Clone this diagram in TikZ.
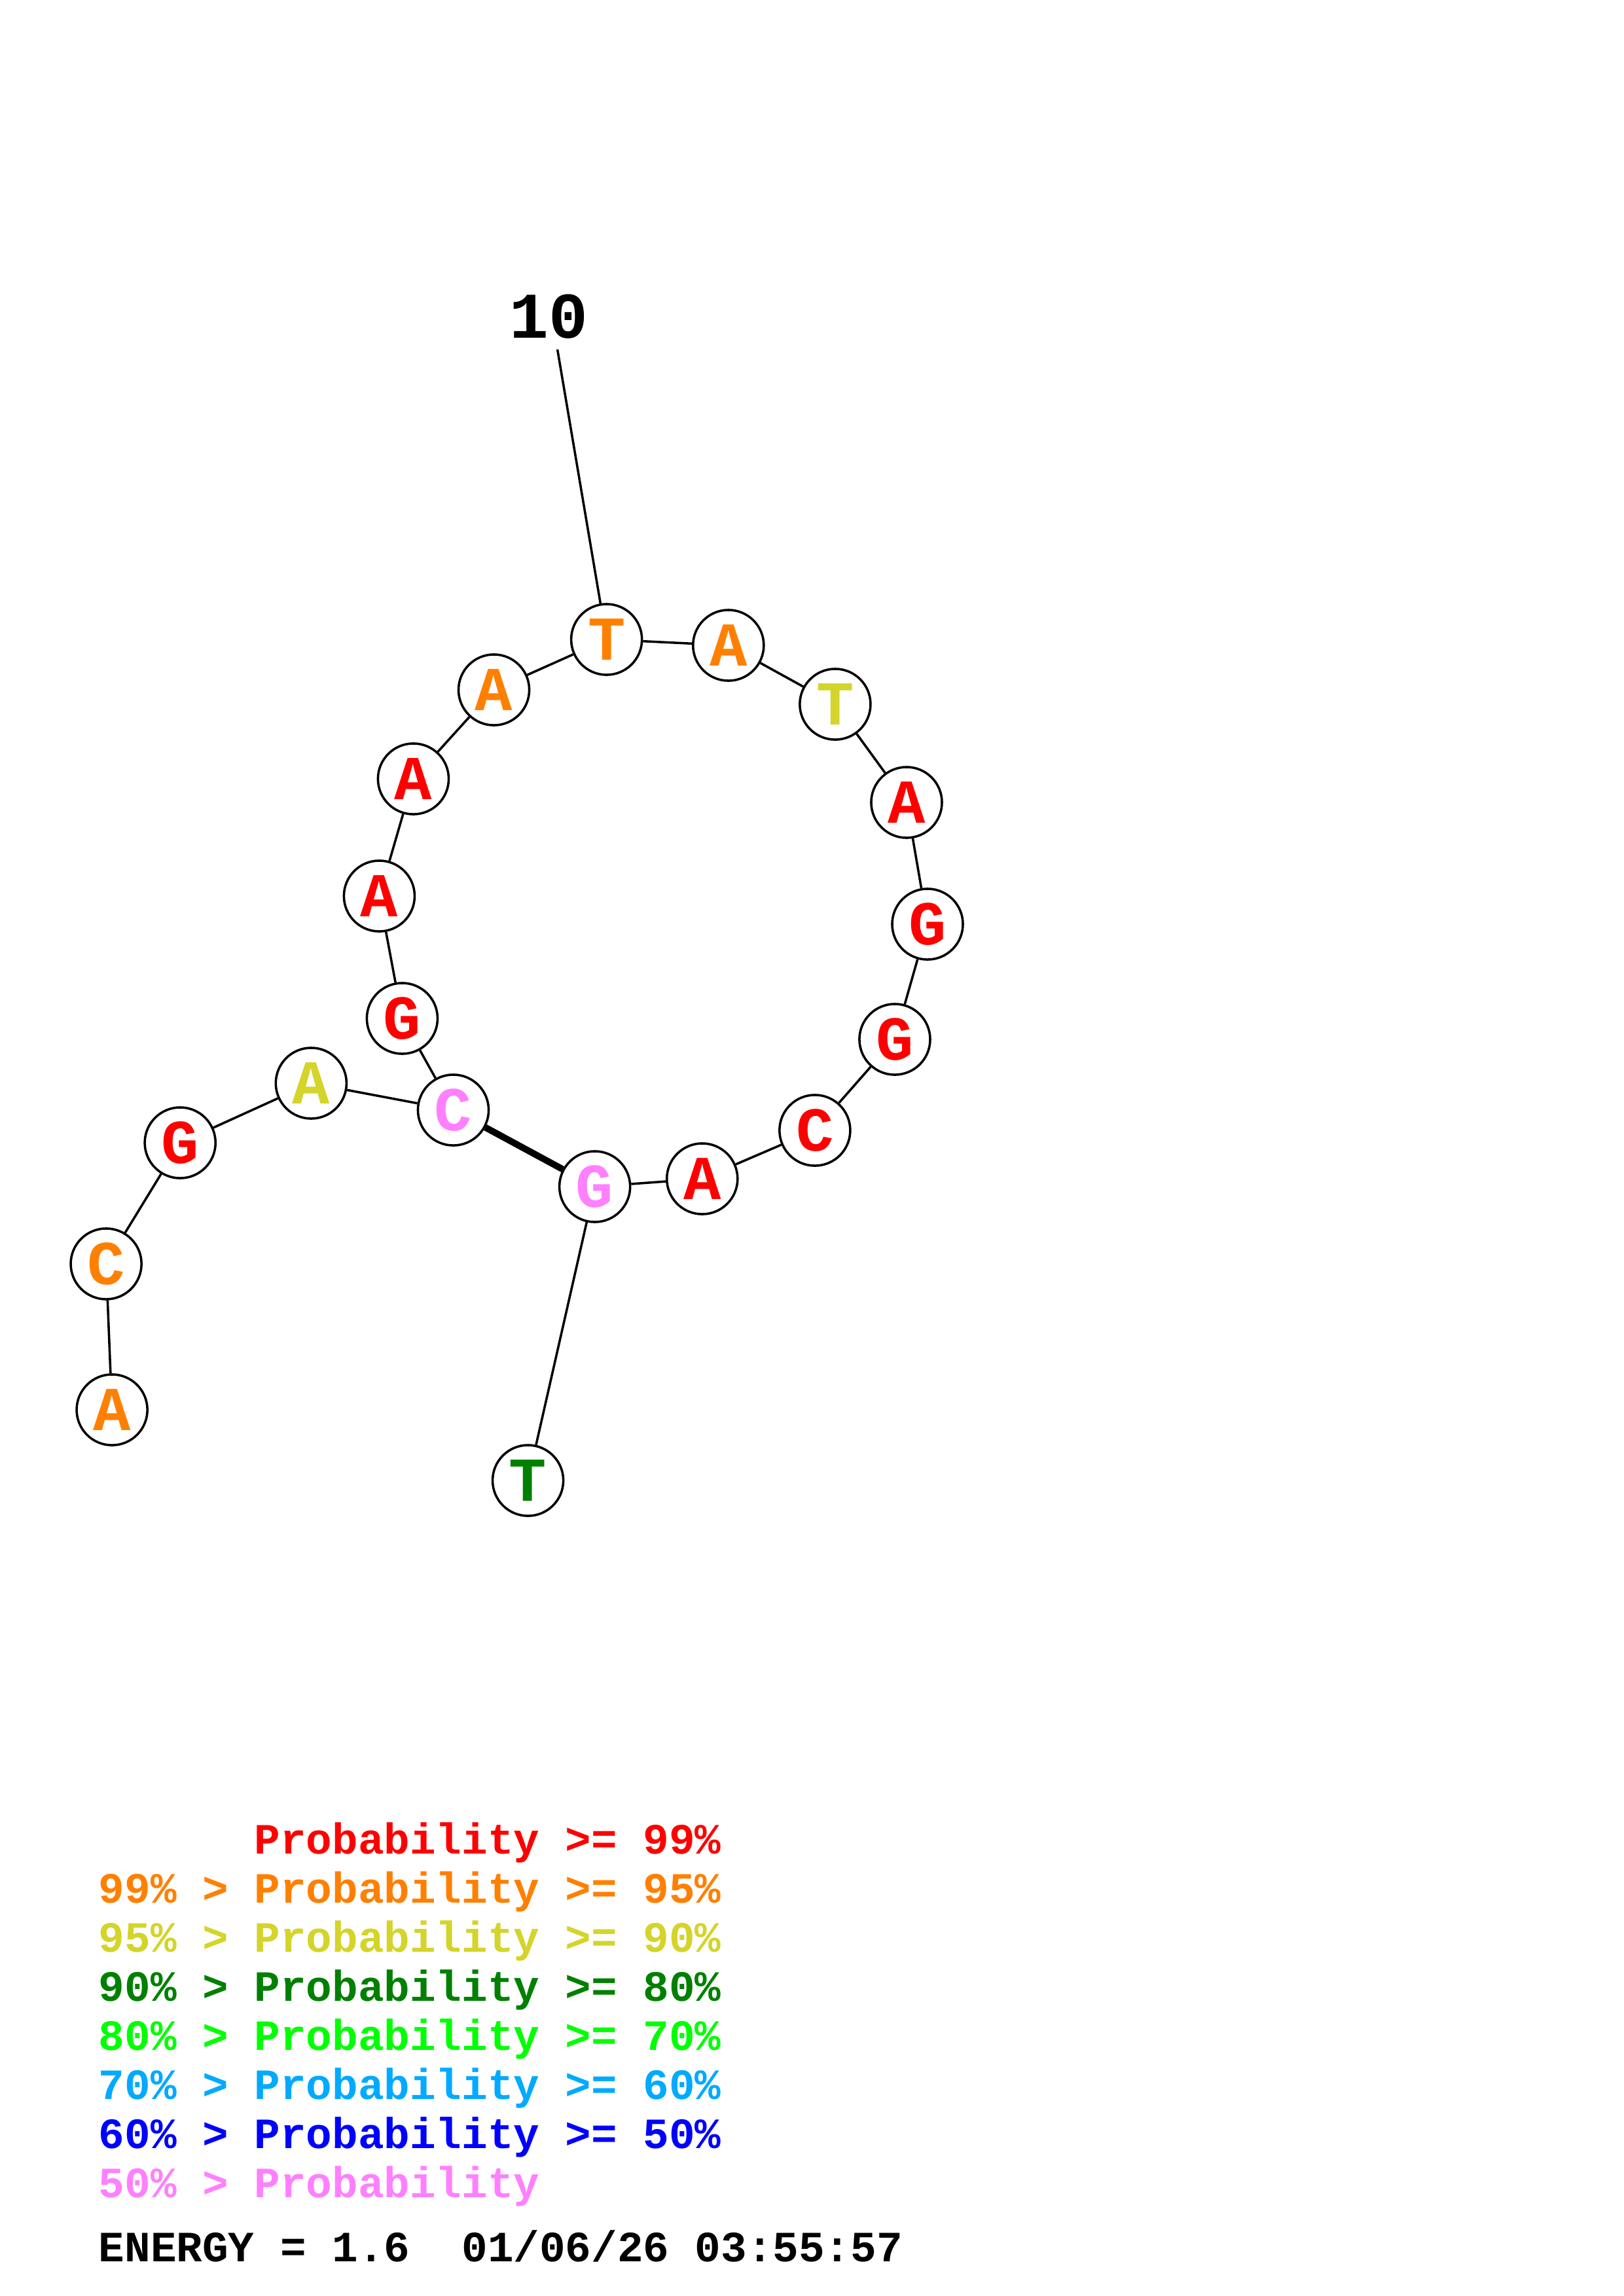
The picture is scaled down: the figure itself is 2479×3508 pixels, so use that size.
\documentclass[tikz,border=0pt]{standalone}
\usepackage{fontspec}
\setmonofont{Liberation Mono}
\usepackage{xcolor}

\definecolor{pr99}{RGB}{255,0,0}
\definecolor{pr95}{RGB}{255,128,0}
\definecolor{pr90}{RGB}{212,212,42}
\definecolor{pr80}{RGB}{0,128,0}
\definecolor{pr70}{RGB}{0,255,0}
\definecolor{pr60}{RGB}{0,170,255}
\definecolor{pr50}{RGB}{0,0,255}
\definecolor{prlow}{RGB}{255,128,255}

\begin{document}
\begin{tikzpicture}[x=0.08471mm,y=-0.08466mm,
  base/.style={circle,draw,fill=white,line width=0.3mm,minimum size=9.15mm,inner sep=0pt,
    font=\ttfamily\bfseries\fontsize{23pt}{23pt}\selectfont},
  backbone/.style={line width=0.3mm},
  pairline/.style={line width=0.85mm},
  legend/.style={anchor=base west,inner sep=0pt,font=\ttfamily\bfseries\fontsize{15.9pt}{18pt}\selectfont}]
\useasboundingbox[fill=white] (0,0) rectangle (2479,3508);
\foreach \nm/\x/\y/\col/\b in {b1/171/2154/pr95/A, b2/162/1931/pr95/C, b3/275/1746/pr99/G,
  b4/475/1655/pr90/A, b5/692/1696/prlow/C, b6/614/1556/pr99/G, b7/579/1369/pr99/A,
  b8/631/1190/pr99/A, b9/754/1054/pr95/A, b10/926/977/pr95/T, b11/1112/986/pr95/A,
  b12/1275/1076/pr90/T, b13/1384/1226/pr99/A, b14/1416/1412/pr99/G, b15/1366/1588/pr99/G,
  b16/1244/1727/pr99/C, b17/1072/1801/pr99/A, b18/908/1813/prlow/G, b19/806/2262/pr80/T}
  \node[base,text=\col] (\nm) at (\x,\y) {\b};
\foreach \i [remember=\i as \j (initially 1)] in {2,...,19}
  \draw[backbone] (b\j) -- (b\i);
\draw[pairline] (b5) -- (b18);
\node[inner sep=0pt,font=\ttfamily\bfseries\fontsize{24pt}{24pt}\selectfont] (lab10) at (838,484) {10};
\coordinate (lab10end) at (851,534);
\draw[backbone] (lab10end) -- (b10);
\node[legend,text=pr99] (leg1) at (150,2832) {\hphantom{99\% >}\ Probability >= 99\%};
\foreach \col/\txt [count=\i from 2] in {pr95/99\% > Probability >= 95\%, pr90/95\% > Probability >= 90\%,
  pr80/90\% > Probability >= 80\%, pr70/80\% > Probability >= 70\%, pr60/70\% > Probability >= 60\%,
  pr50/60\% > Probability >= 50\%, prlow/50\% > Probability}
  \node[legend,text=\col] (leg\i) at (150,2832+75*\i-75) {\txt};
\node[legend] (energy) at (150,3455) {ENERGY = 1.6\ \ 01/06/26 03:55:57};
\end{tikzpicture}
\end{document}
